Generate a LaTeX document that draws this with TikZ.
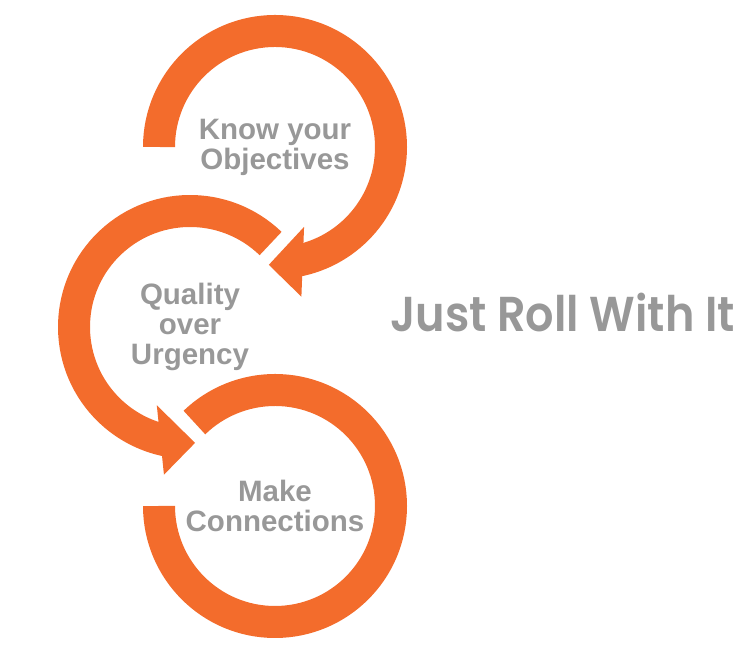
\documentclass[tikz,border=0pt]{standalone}
\usepackage{fontspec}
\setmainfont{Liberation Sans}
\newfontfamily\titlefont{Poppins SemiBold}
\usetikzlibrary{calc}
\definecolor{rollorange}{RGB}{243,108,44}
\definecolor{rollgray}{RGB}{152,152,152}
\tikzset{
  ring/.style={draw=rollorange, line width=32pt},
  head/.style={fill=rollorange},
  steptext/.style={text=rollgray, font=\bfseries\fontsize{29.5}{30}\selectfont, align=center}
}
\begin{document}
\begin{tikzpicture}[x=1pt, y=1pt]
  \useasboundingbox (0,0) rectangle (756,663);
  % circle centres
  \coordinate (c1) at (275,516);
  \coordinate (c2) at (190,336);
  \coordinate (c3) at (275,157);
  % top ring
  \draw[ring] ($(c1)+(180:116)$) arc (180:-80:116);
  \fill[head] ($(c1)+(-70:85)$) -- ($(c1)+(-80:152)$) -- ($(c1)+(-93:118)$) -- cycle;
  % middle ring
  \draw[ring] ($(c2)+(46:116)$) arc (46:258:116);
  \fill[head] ($(c2)+(-113:85)$) -- ($(c2)+(-100:150)$) -- ($(c2)+(-87.5:116)$) -- cycle;
  % bottom ring
  \draw[ring] ($(c3)+(-180:116)$) arc (-180:134:116);
  % labels
  \node[steptext] (know) at (c1) {Know your\\Objectives};
  \node[steptext] (quality) at (c2) {Quality\\over\\Urgency};
  \node[steptext] (make) at (c3) {Make\\Connections};
  \node[text=rollgray, font=\titlefont\fontsize{49}{49}\selectfont, anchor=base west, inner sep=0pt] (title) at (390,331) {\scalebox{0.91}[1]{Just Roll With It}};
\end{tikzpicture}
\end{document}
